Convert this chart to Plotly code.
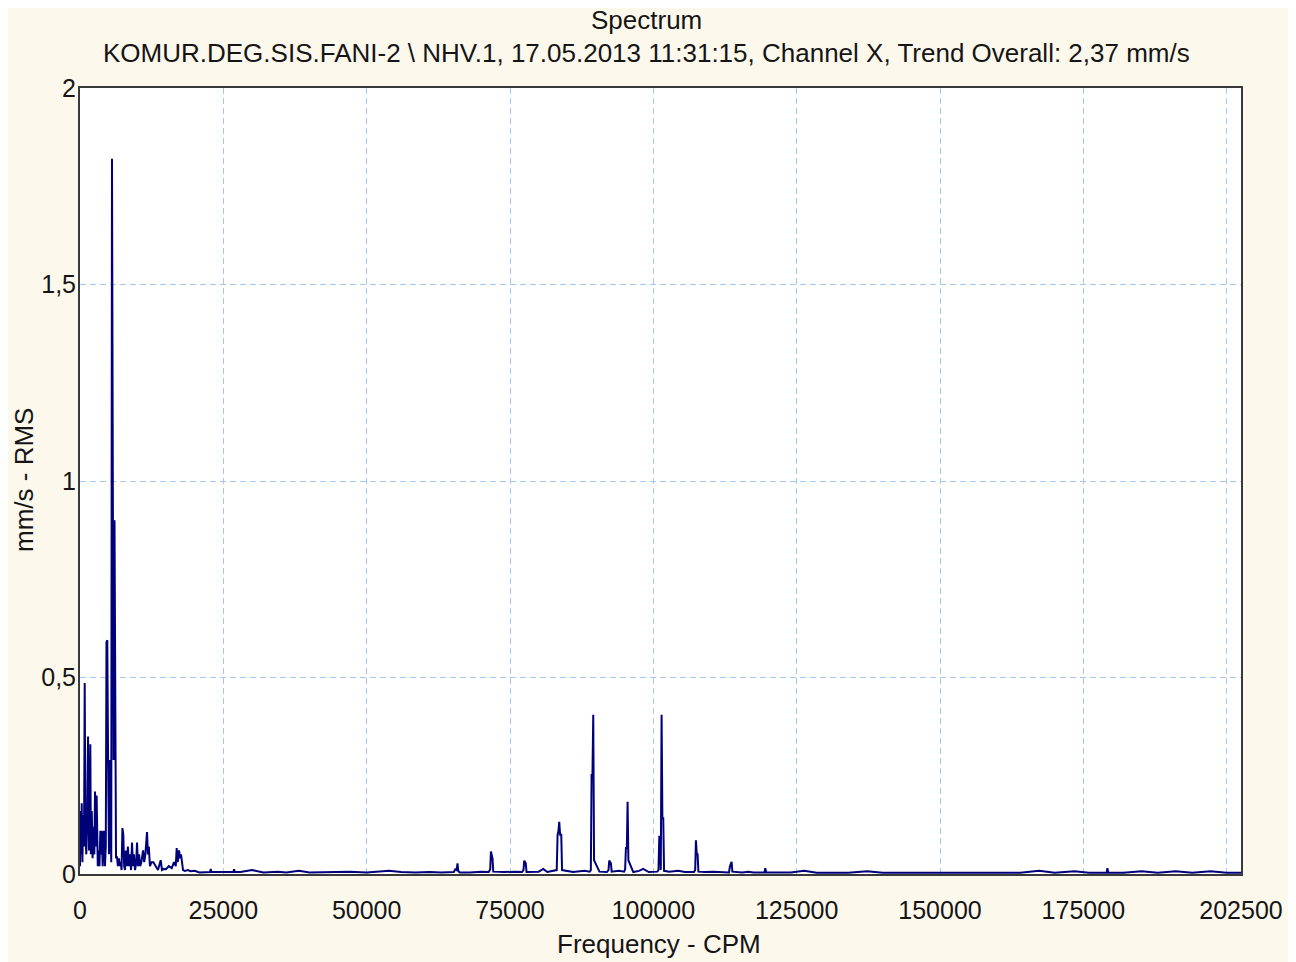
import plotly.graph_objects as go

# ---- data (frequency in CPM, amplitude in mm/s RMS) ----
low_freq = [0, 90, 200, 300, 420, 550, 700, 820, 950, 1100, 1250, 1400, 1570, 1700, 1800, 1900,
            2050, 2200, 2350, 2500, 2620, 2750, 2900, 2970, 3100, 3250, 3400, 3550, 3660, 3800,
            3950, 4100, 4190, 4350, 4500, 4620, 4760, 4900, 5060, 5180, 5300, 5450, 5580, 5700,
            5850, 6020, 6150, 6280, 6450, 6600, 6800, 6950, 7100, 7250, 7400, 7550, 7700, 7850,
            8000, 8200, 8350, 8550, 8700, 8900, 9070, 9250, 9400, 9600, 9800, 9950, 10100, 10300,
            10500, 10700, 11000, 11200, 11400, 11690, 11850, 12000, 12200, 12500, 12800, 13200,
            13600, 14080, 14300, 14600, 15000, 15500, 16000, 16400, 16700, 16870, 17050, 17280,
            17450, 17620, 17800, 17970, 18300, 18800, 19300, 20000]
low_amp = [0.02, 0.16, 0.05, 0.18, 0.03, 0.15, 0.07, 0.486, 0.10, 0.05, 0.14, 0.35, 0.06, 0.15, 0.33, 0.05,
           0.16, 0.04, 0.12, 0.05, 0.21, 0.07, 0.20, 0.05, 0.02, 0.06, 0.02, 0.11, 0.05, 0.11,
           0.02, 0.10, 0.11, 0.02, 0.07, 0.59, 0.595, 0.29, 0.05, 0.29, 0.10, 0.03, 1.82, 0.90,
           0.29, 0.90, 0.05, 0.04, 0.045, 0.02, 0.04, 0.02, 0.03, 0.01, 0.117, 0.10, 0.02, 0.01,
           0.06, 0.02, 0.07, 0.02, 0.05, 0.01, 0.08, 0.02, 0.05, 0.01, 0.03, 0.08, 0.02, 0.05,
           0.02, 0.03, 0.06, 0.03, 0.05, 0.107, 0.05, 0.07, 0.02, 0.03, 0.03, 0.02,
           0.01, 0.035, 0.01, 0.013, 0.012, 0.02, 0.015, 0.03, 0.02, 0.066, 0.03, 0.06,
           0.04, 0.05, 0.02, 0.01, 0.008, 0.01, 0.007, 0.008]

high_freq = [20800, 22000, 22700, 22800, 22900, 25000, 26750, 26870, 27000, 28000, 30010, 32000,
             34500, 36000, 38200, 40000, 42500, 44000, 47000, 50000, 53900, 56000, 58500, 61000,
             63000, 65200, 65450, 65700, 65840, 65980, 66200, 68000, 70000, 71300, 71550, 71670,
             71950, 72080, 74000, 76000, 77100, 77350, 77480, 77750, 77880, 80000, 80800, 81500,
             83150, 83300, 83450, 83590, 83740, 83940, 84080, 86000, 88000, 88900, 89100, 89230,
             89380, 89520, 89660, 90600, 91900, 92180, 92310, 92600, 92730, 94000, 94900, 95080,
             95220, 95380, 95510, 95650, 96500, 97500, 98240, 99200, 100700, 100900, 101040,
             101180, 101300, 101440, 101580, 101730, 101870, 102800, 104350, 105500, 107100,
             107300, 107430, 107580, 107720, 107860, 109000, 110460, 112000, 113200, 113360,
             113500, 113650, 113780, 115500, 116570, 117500, 119380, 119530, 119680, 122000,
             124000, 126300, 128500, 131000, 134000, 137300, 140000, 144000, 148000, 152000,
             156000, 160000, 164000, 167300, 170000, 173450, 176000, 179080, 179200, 179330,
             182000, 185150, 188000, 191100, 194000, 197200, 200000, 202500]
high_amp = [0.004, 0.005, 0.005, 0.013, 0.005, 0.005, 0.005, 0.012, 0.005, 0.005, 0.01, 0.004,
            0.006, 0.004, 0.008, 0.004, 0.005, 0.004, 0.006, 0.004, 0.008, 0.005, 0.004, 0.005,
            0.004, 0.005, 0.012, 0.01, 0.027, 0.008, 0.004, 0.004, 0.006, 0.005, 0.012, 0.057,
            0.04, 0.006, 0.005, 0.006, 0.005, 0.01, 0.034, 0.027, 0.005, 0.006, 0.013, 0.005,
            0.01, 0.10, 0.11, 0.133, 0.10, 0.10, 0.01, 0.005, 0.008, 0.006, 0.01, 0.252,
            0.252, 0.405, 0.035, 0.006, 0.005, 0.01, 0.034, 0.027, 0.006, 0.008, 0.006, 0.012,
            0.066, 0.066, 0.184, 0.035, 0.005, 0.008, 0.013, 0.005, 0.006, 0.01, 0.095,
            0.095, 0.01, 0.405, 0.142, 0.142, 0.008, 0.006, 0.008, 0.005, 0.005,
            0.01, 0.086, 0.05, 0.05, 0.006, 0.005, 0.006, 0.004, 0.004, 0.02,
            0.025, 0.031, 0.006, 0.004, 0.006, 0.004, 0.004, 0.015, 0.004, 0.004,
            0.004, 0.008, 0.003, 0.003, 0.003, 0.007, 0.003, 0.003, 0.003, 0.003,
            0.003, 0.003, 0.003, 0.008, 0.003, 0.007, 0.003, 0.004, 0.015, 0.004,
            0.003, 0.007, 0.003, 0.007, 0.003, 0.007, 0.003, 0.003]

x_tick_vals = [0, 25000, 50000, 75000, 100000, 125000, 150000, 175000, 200000, 202500]
x_tick_text = ["0", "25000", "50000", "75000", "100000", "125000", "150000", "175000", "", "202500"]
y_tick_vals = [0, 0.5, 1, 1.5, 2]
y_tick_text = ["0", "0,5", "1", "1,5", "2"]

title_main = "Spectrum"
title_sub = "KOMUR.DEG.SIS.FANI-2 \\ NHV.1, 17.05.2013 11:31:15, Channel X, Trend Overall: 2,37 mm/s"
x_title = "Frequency - CPM"
y_title = "mm/s - RMS"

FONT = "Liberation Sans, Arial, sans-serif"
TXT = "#151515"

fig = go.Figure()
fig.add_trace(go.Scatter(
    x=low_freq + high_freq, y=low_amp + high_amp,
    mode="lines", line=dict(color="#00007A", width=2),
    hoverinfo="x+y", showlegend=False,
))

common = dict(showgrid=True, gridcolor="#A3C9F2", gridwidth=1, griddash="6px,4px",
              showline=True, linecolor="#3a3a3a", linewidth=2, mirror=True, automargin=False,
              zeroline=False, ticks="", tickfont=dict(family=FONT, size=25, color=TXT))

fig.update_xaxes(range=[0, 202500], tickmode="array", tickvals=x_tick_vals, ticktext=x_tick_text,
                 ticklabelstandoff=13, **common)
fig.update_yaxes(range=[0, 2], tickmode="array", tickvals=y_tick_vals, ticktext=y_tick_text,
                 ticklabelstandoff=-3, **common)

# figure is shown with an 8px page margin; positions below are in figure pixels
W, H = 1280, 954
L, R, T, B = 72, 47, 80, 88
pw, ph = W - L - R, H - T - B

def px(xp):
    return (xp - L) / pw

def py(yp):
    return (H - B - yp) / ph

ann = [
    dict(text=title_main, x=px(638), y=py(12), font=dict(family=FONT, size=26, color=TXT)),
    dict(text=title_sub, x=px(638), y=py(45), font=dict(family=FONT, size=26, color=TXT)),
    dict(text=x_title, x=px(651), y=py(936), font=dict(family=FONT, size=26, color=TXT)),
    dict(text=y_title, x=px(16), y=py(472), textangle=-90, font=dict(family=FONT, size=26, color=TXT)),
]
for a in ann:
    a.update(xref="paper", yref="paper", showarrow=False, xanchor="center", yanchor="middle")

fig.update_layout(
    width=W, height=H,
    margin=dict(l=L, r=R, t=T, b=B, pad=0, autoexpand=False),
    paper_bgcolor="#FDF8EC", plot_bgcolor="#FFFFFF",
    annotations=ann,
    font=dict(family=FONT, color=TXT),
)

fig.write_html("out.html")
